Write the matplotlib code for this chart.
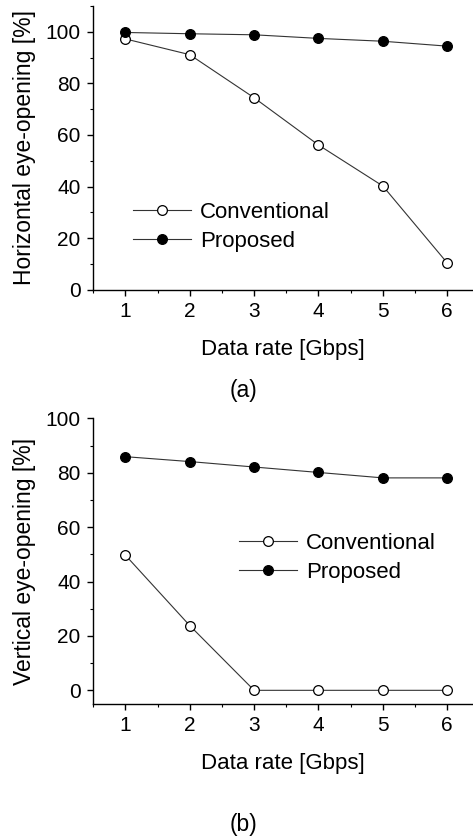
import matplotlib
matplotlib.use("Agg")
import matplotlib.pyplot as plt
from matplotlib.ticker import MultipleLocator

plt.rcParams['font.family'] = ['Liberation Sans', 'DejaVu Sans']
plt.rcParams['font.size'] = 15

rate = [1, 2, 3, 4, 5, 6]
# (a) horizontal eye-opening
horiz_conv = [97.2, 91.1, 74.4, 56.1, 40.2, 10.4]
horiz_prop = [99.7, 99.2, 98.8, 97.4, 96.3, 94.4]
# (b) vertical eye-opening
vert_conv = [49.7, 23.8, 0, 0, 0, 0]
vert_prop = [85.9, 84.1, 82.1, 80.1, 78.1, 78.1]

fig = plt.figure(figsize=(4.73, 8.4), dpi=100)
ax1 = fig.add_axes([0.197, 0.655, 0.803, 0.338])
ax2 = fig.add_axes([0.197, 0.162, 0.803, 0.340])


def style(ax, conv, prop, ylab, ylim, leg_pos):
    ax.plot(rate, conv, '-o', color='#333333', lw=0.8, ms=7,
            mfc='white', mec='black', mew=0.9, label='Conventional')
    ax.plot(rate, prop, '-o', color='#333333', lw=0.8, ms=7,
            mfc='black', mec='black', mew=0.9, label='Proposed')
    ax.set_xlim(0.5, 6.4)
    ax.set_ylim(*ylim)
    ax.xaxis.set_major_locator(MultipleLocator(1))
    ax.xaxis.set_minor_locator(MultipleLocator(0.5))
    ax.yaxis.set_major_locator(MultipleLocator(20))
    ax.yaxis.set_minor_locator(MultipleLocator(10))
    ax.spines['top'].set_visible(False)
    ax.spines['right'].set_visible(False)
    for s in ('left', 'bottom'):
        ax.spines[s].set_linewidth(1.0)
    ax.tick_params(which='major', direction='out', length=4, width=1.0,
                   pad=5, labelsize=15)
    ax.tick_params(which='minor', direction='out', length=2.5, width=0.8)
    ax.set_xlabel('Data rate [Gbps]', fontsize=16, labelpad=13)
    ax.set_ylabel(ylab, fontsize=16.5, labelpad=7)
    ax.legend(loc='center left', bbox_to_anchor=leg_pos, frameon=False,
              fontsize=16, borderpad=0, borderaxespad=0, handlelength=2.6,
              handletextpad=0.4, labelspacing=0.35)


style(ax1, horiz_conv, horiz_prop, 'Horizontal eye-opening [%]', (0, 110), (0.106, 0.222))
style(ax2, vert_conv, vert_prop, 'Vertical eye-opening [%]', (-5, 100), (0.385, 0.512))

fig.text(0.514, 0.535, '(a)', ha='center', va='center', fontsize=16.5)
fig.text(0.514, 0.019, '(b)', ha='center', va='center', fontsize=16.5)

fig.savefig('out.png', dpi=100)
